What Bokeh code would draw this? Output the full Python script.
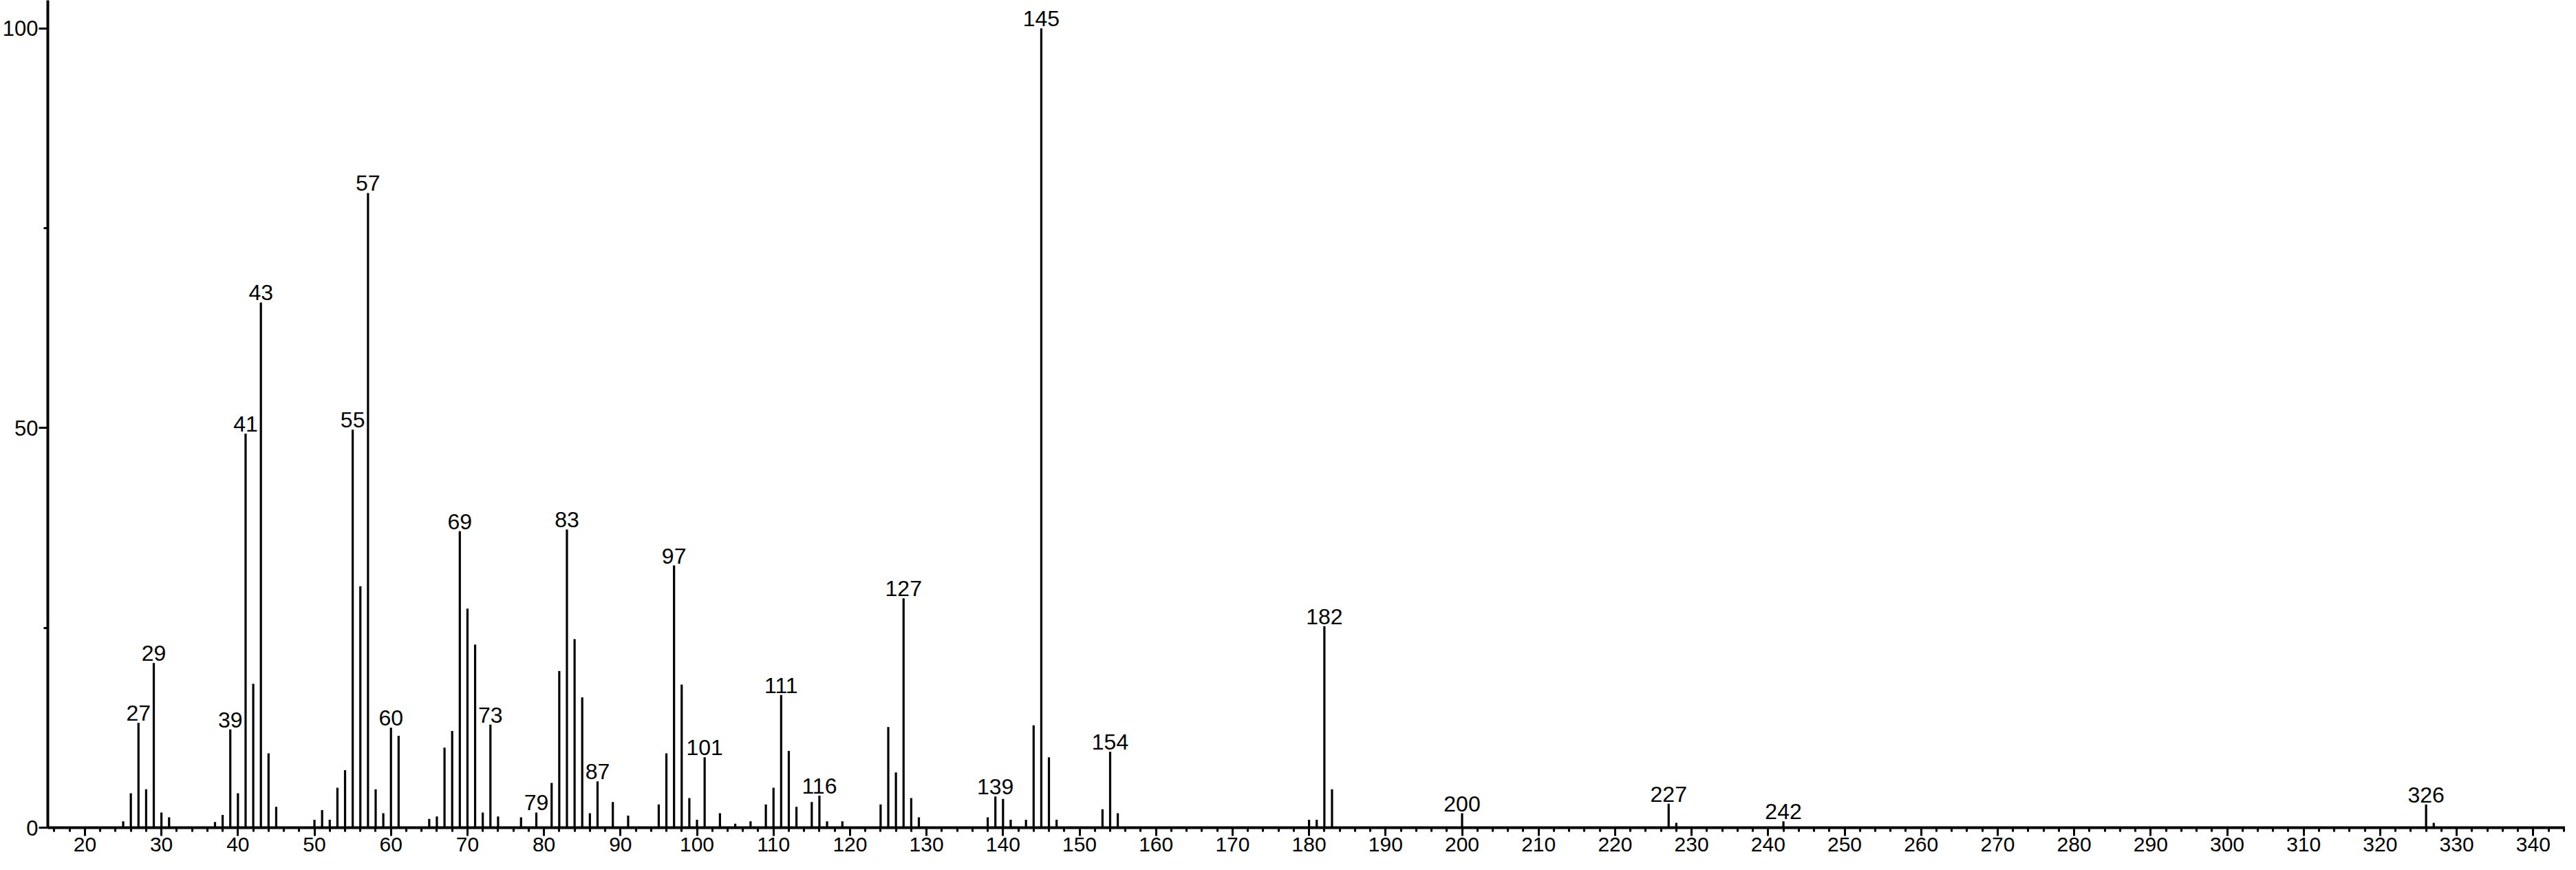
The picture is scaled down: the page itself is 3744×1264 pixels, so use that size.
from bokeh.plotting import figure
from bokeh.models import Range1d, FixedTicker, ColumnDataSource
from bokeh.core.properties import value
from bokeh.embed import file_html
from bokeh.resources import INLINE

# m/z values and relative intensities (%)
mz = [25, 26, 27, 28, 29, 30, 31, 37, 38, 39, 40, 41, 42, 43, 44, 45,
      50, 51, 52, 53, 54, 55, 56, 57, 58, 59, 60, 61, 65, 66, 67, 68, 69, 70,
      71, 72, 73, 74, 77, 79, 81, 82, 83, 84, 85, 86, 87, 89, 91, 95, 96, 97,
      98, 99, 100, 101, 103, 105, 107, 109, 110, 111, 112, 113, 115, 116, 117,
      119, 124, 125, 126, 127, 128, 129, 138, 139, 140, 141, 143, 144, 145,
      146, 147, 153, 154, 155, 180, 181, 182, 183, 200, 227, 228, 242, 326, 327]
intensity = [0.8, 4.3, 13.1, 4.8, 20.6, 1.9, 1.3, 0.7, 1.6, 12.3, 4.3, 49.3, 18.0, 65.7, 9.3, 2.6,
             1.0, 2.2, 1.0, 5.0, 7.2, 49.8, 30.2, 79.4, 4.8, 1.8, 12.5, 11.5, 1.1, 1.4, 10.0, 12.1, 37.1, 27.4,
             22.9, 1.9, 12.9, 1.4, 1.3, 1.9, 5.6, 19.6, 37.3, 23.6, 16.3, 1.8, 5.8, 3.2, 1.5, 2.9, 9.3, 32.8,
             17.9, 3.7, 1.0, 8.8, 1.8, 0.5, 0.8, 2.9, 5.0, 16.6, 9.6, 2.6, 3.2, 4.0, 0.8,
             0.8, 2.9, 12.6, 6.9, 28.7, 3.7, 1.3, 1.3, 3.9, 3.6, 1.0, 1.0, 12.8, 100.0,
             8.8, 1.0, 2.3, 9.5, 1.8, 1.0, 1.0, 25.2, 4.8, 1.8, 3.0, 0.6, 0.8, 2.9, 0.6]

# peaks that carry a label
labeled_mz = [27, 29, 39, 41, 43, 55, 57, 60, 69, 73, 79, 83, 87, 97, 101, 111,
              116, 127, 139, 145, 154, 182, 200, 227, 242, 326]

x_ticks = list(range(20, 341, 10))
x_minor = list(range(16, 345, 2))
y_ticks = [0, 50, 100]
y_minor = [25, 75]

lookup = dict(zip(mz, intensity))
peaks = ColumnDataSource(dict(x=mz, y0=[0] * len(mz), y1=intensity))
labels = ColumnDataSource(dict(x=labeled_mz, y=[lookup[m] for m in labeled_mz],
                               t=[str(m) for m in labeled_mz]))

FONT = "Liberation Sans"

p = figure(width=3728, height=1248,
           x_range=Range1d(15.15, 344.2), y_range=Range1d(0, 103.5),
           output_backend="svg", toolbar_location=None,
           min_border_left=0, min_border_right=0, min_border_top=0, min_border_bottom=46)
p.outline_line_color = None
p.xgrid.visible = False
p.ygrid.visible = False
p.background_fill_color = "white"
p.border_fill_color = "white"

p.segment(x0="x", y0="y0", x1="x", y1="y1", source=peaks, line_color="black", line_width=3.2)
p.text(x="x", y="y", text="t", source=labels, text_align="center", text_baseline="bottom",
       y_offset=-3, text_font=value(FONT), text_font_size="32px", text_color="black")

xa = p.xaxis[0]
xa.ticker = FixedTicker(ticks=x_ticks, minor_ticks=x_minor)
xa.axis_line_width = 4
xa.axis_line_color = "black"
xa.major_tick_line_width = 3
xa.minor_tick_line_width = 3
xa.major_tick_out = 12
xa.major_tick_in = 0
xa.minor_tick_out = 6
xa.minor_tick_in = 0
xa.major_label_standoff = 2
xa.major_label_text_font = FONT
xa.major_label_text_font_size = "30px"
xa.major_label_text_color = "black"

ya = p.yaxis[0]
ya.ticker = FixedTicker(ticks=y_ticks, minor_ticks=y_minor)
ya.axis_line_width = 4
ya.axis_line_color = "black"
ya.major_tick_line_width = 3
ya.minor_tick_line_width = 3
ya.major_tick_out = 13
ya.major_tick_in = 0
ya.minor_tick_out = 6
ya.minor_tick_in = 0
ya.major_label_standoff = 1
ya.major_label_text_font = FONT
ya.major_label_text_font_size = "31px"
ya.major_label_text_color = "black"

open("out.html", "w").write(file_html(p, INLINE))
